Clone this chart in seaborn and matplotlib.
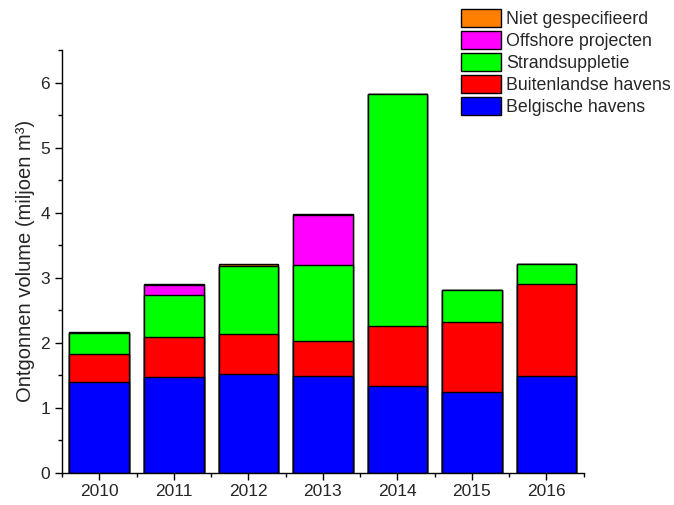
import numpy as np
import pandas as pd
import matplotlib
matplotlib.use("Agg")
import matplotlib.pyplot as plt
from matplotlib.ticker import MultipleLocator
import seaborn as sns

# Data (miljoen m3)
years = ["2010", "2011", "2012", "2013", "2014", "2015", "2016"]
belgische = [1.39, 1.47, 1.52, 1.49, 1.34, 1.24, 1.48]
buitenlandse = [0.43, 0.61, 0.62, 0.53, 0.91, 1.07, 1.42]
strand = [0.33, 0.65, 1.04, 1.17, 3.57, 0.50, 0.31]
offshore = [0.00, 0.16, 0.00, 0.77, 0.00, 0.00, 0.00]
niet = [0.02, 0.01, 0.03, 0.02, 0.00, 0.00, 0.00]

series = [
    ("Belgische havens", belgische, "#0000FF"),
    ("Buitenlandse havens", buitenlandse, "#FF0000"),
    ("Strandsuppletie", strand, "#00FF00"),
    ("Offshore projecten", offshore, "#FF00FF"),
    ("Niet gespecifieerd", niet, "#FF8000"),
]

# cumulative totals for the stacked look
df = pd.DataFrame({"jaar": years})
running = np.zeros(len(years))
for name, vals, _ in series:
    running = running + np.array(vals)
    df[name] = running

sns.set_theme(style="ticks")
plt.rcParams["font.family"] = ["Liberation Sans", "DejaVu Sans"]

fig = plt.figure(figsize=(6.74, 5.05), dpi=100)
ax = fig.add_axes([0.092, 0.064, 0.774, 0.837])

# draw tallest first so lower segments overlay
for name, _, color in reversed(series):
    sns.barplot(data=df, x="jaar", y=name, order=years, color=color,
                edgecolor="black", linewidth=1, width=0.8, saturation=1,
                label=name, ax=ax)
if ax.get_legend() is not None:
    ax.get_legend().remove()

ax.set_xlim(-0.5, 6.5)
ax.set_ylim(0, 6.5)
ax.set_xlabel("")
ax.set_ylabel("Ontgonnen volume (miljoen m³)", fontsize=14.5, labelpad=4)
ax.yaxis.set_major_locator(MultipleLocator(1))
ax.yaxis.set_minor_locator(MultipleLocator(0.5))
ax.xaxis.set_minor_locator(MultipleLocator(1, offset=0.5))
ax.tick_params(axis="both", which="major", labelsize=12.5, length=5, width=1,
               direction="out", color="black")
ax.tick_params(axis="both", which="minor", length=3, width=1, color="black")
for side in ["left", "bottom"]:
    ax.spines[side].set_color("black")
    ax.spines[side].set_linewidth(1)
sns.despine(ax=ax)

handles, labels = ax.get_legend_handles_labels()
fig.legend(handles, labels, loc="upper left", bbox_to_anchor=(0.668, 1.003),
           frameon=False, fontsize=12.8, handlelength=2.25, handleheight=1.2,
           labelspacing=0.16, handletextpad=0.3, borderpad=0.1)

fig.savefig("out.png", dpi=100)
